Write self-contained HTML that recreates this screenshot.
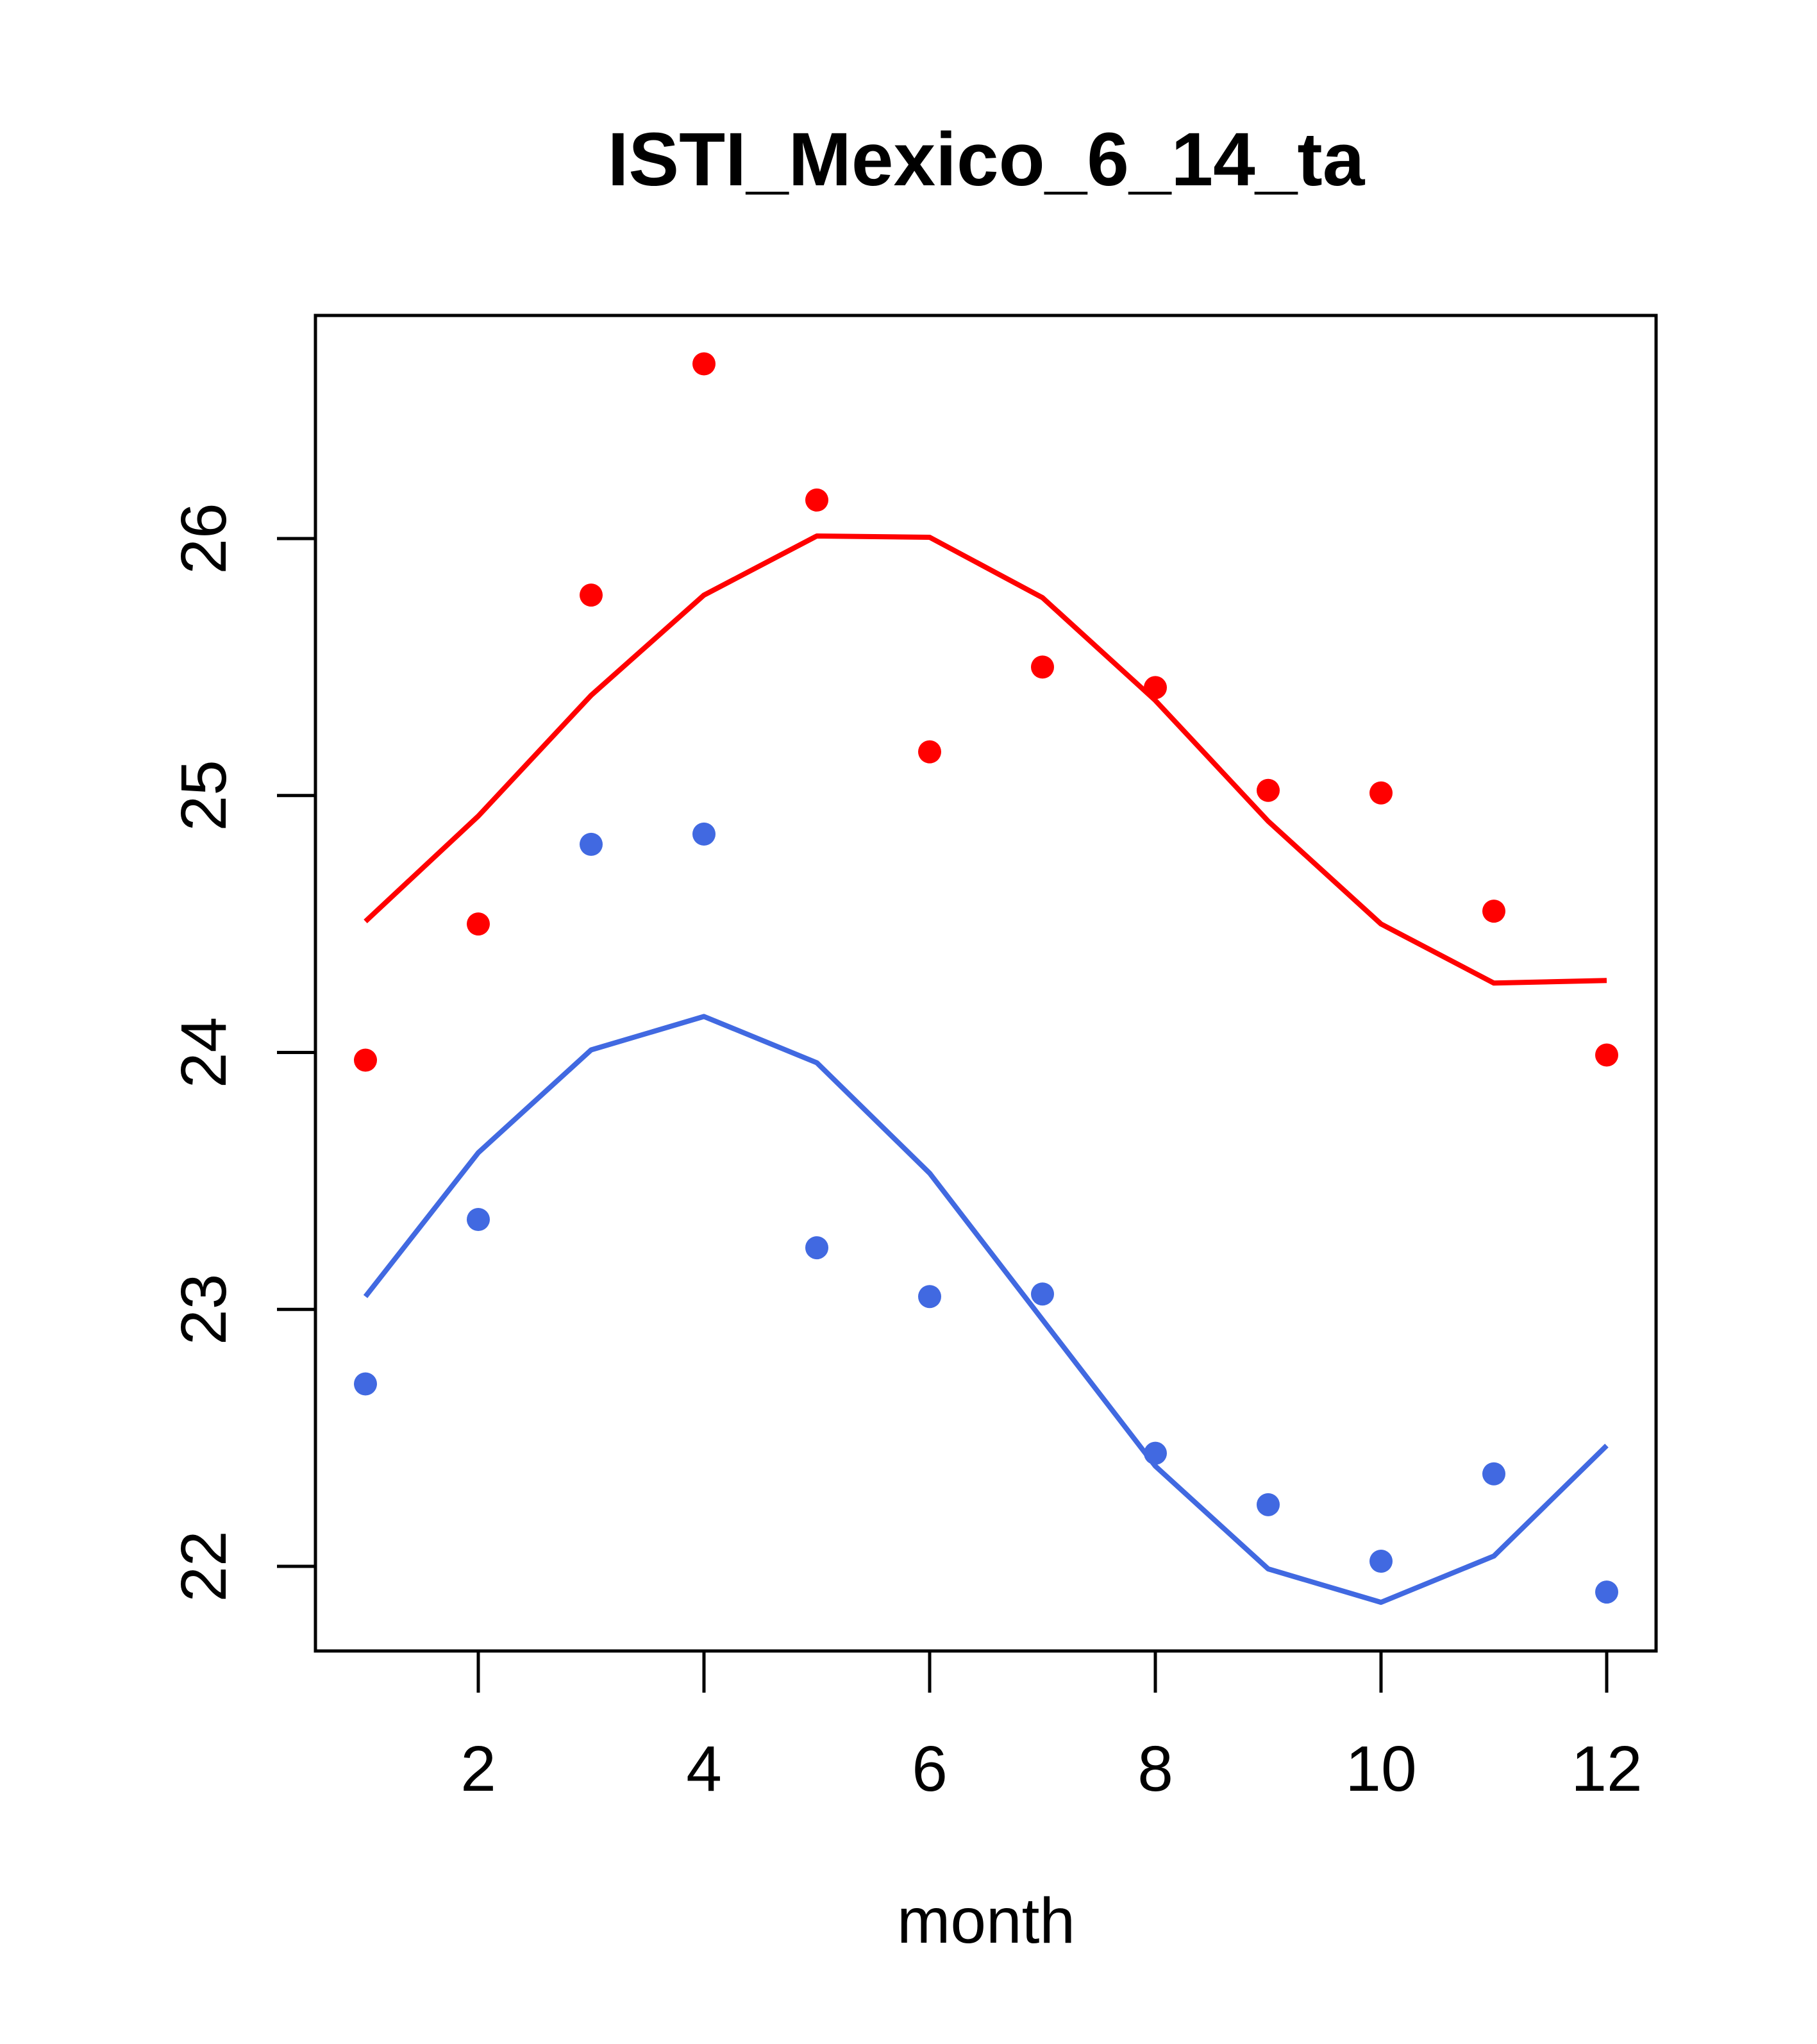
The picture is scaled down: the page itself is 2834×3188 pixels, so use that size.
<!DOCTYPE html>
<html><head><meta charset="utf-8"><style>
html,body{margin:0;padding:0;background:#fff;}
svg{display:block;}
text{font-family:"Liberation Sans",Arial,sans-serif;}
</style></head><body>
<svg id="chart" width="2834" height="3188" viewBox="0 0 2834 3188" xmlns="http://www.w3.org/2000/svg">
<rect width="2834" height="3188" fill="#fff"/>
<text x="1538" y="289" font-size="118" font-weight="bold" text-anchor="middle">ISTI_Mexico_6_14_ta</text>
<rect x="492" y="492" width="2091" height="2083" fill="none" stroke="#000" stroke-width="5"/>
<text x="1538" y="3030" font-size="100" text-anchor="middle">month</text>
<g id="xaxis"></g>
<g id="yaxis"></g>
<g id="series"></g>
</svg>
<script>
const months=[1,2,3,4,5,6,7,8,9,10,11,12];
const redPoints=[23.97,24.50,25.78,26.68,26.15,25.17,25.50,25.42,25.02,25.01,24.55,23.99];
const redLine=[24.51,24.92,25.39,25.78,26.01,26.005,25.77,25.37,24.90,24.50,24.27,24.28];
const bluePoints=[22.71,23.35,24.81,24.85,23.24,23.05,23.06,22.44,22.24,22.02,22.36,21.90];
const blueLine=[23.05,23.61,24.01,24.14,23.96,23.53,22.96,22.39,21.99,21.86,22.04,22.47];
const xTicks=[2,4,6,8,10,12];
const yTicks=[22,23,24,25,26];

const NS="http://www.w3.org/2000/svg";
function xs(v){return 746+(v-2)*(2506-746)/10;}
function ys(v){return 840+(26-v)*(2443-840)/4;}
function mk(tag,attrs,parent){const e=document.createElementNS(NS,tag);for(const k in attrs)e.setAttribute(k,attrs[k]);parent.appendChild(e);return e;}
const xa=document.getElementById('xaxis'),ya=document.getElementById('yaxis'),sg=document.getElementById('series');
xTicks.forEach(t=>{
  const l=mk('line',{x1:xs(t),x2:xs(t),y1:2575,y2:2640,stroke:'#000','stroke-width':5},xa);
  
  
  const tx=mk('text',{x:xs(t),y:2793,'font-size':100,'text-anchor':'middle'},xa);
  tx.textContent=t;
  
  
});
yTicks.forEach(t=>{
  const l=mk('line',{x1:432,x2:492,y1:ys(t),y2:ys(t),stroke:'#000','stroke-width':5},ya);
  
  
  const tx=mk('text',{x:0,y:0,'font-size':100,'text-anchor':'middle',transform:`translate(352,${ys(t)}) rotate(-90)`},ya);
  tx.textContent=t;
  
  
});
function line(vals,color,name){
  const p=mk('polyline',{points:vals.map((v,i)=>xs(months[i])+','+ys(v)).join(' '),fill:'none',stroke:color,'stroke-width':8,'stroke-linejoin':'round'},sg);
  
  
}
function pts(vals,color,name){
  vals.forEach((v,i)=>{
    const c=mk('circle',{cx:xs(months[i]),cy:ys(v),r:18,fill:color},sg);
    
    
  });
}
line(redLine,'#FF0000','red-line');
line(blueLine,'#4169E1','blue-line');
pts(redPoints,'#FF0000','red-point');
pts(bluePoints,'#4169E1','blue-point');
</script>
</body></html>
